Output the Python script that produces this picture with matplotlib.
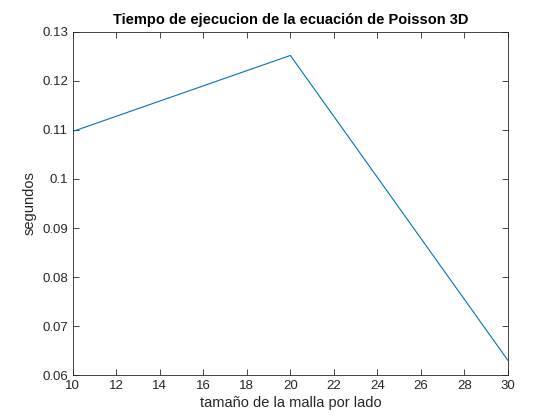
import matplotlib
matplotlib.use("Agg")
import matplotlib.pyplot as plt

x = [10, 20, 30]
y = [0.1097, 0.1252, 0.0630]
xticks = [10, 12, 14, 16, 18, 20, 22, 24, 26, 28, 30]
yticks = [0.06, 0.07, 0.08, 0.09, 0.1, 0.11, 0.12, 0.13]
ytick_labels = ["0.06", "0.07", "0.08", "0.09", "0.1", "0.11", "0.12", "0.13"]

plt.rcParams['font.family'] = ['Liberation Sans', 'DejaVu Sans']
fig = plt.figure(figsize=(5.6, 4.2), dpi=100)
ax = fig.add_axes([0.13, 0.107, 0.777, 0.817])
ax.plot(x, y, color='#0072BD', linewidth=0.8)
ax.set_xlim(10, 30)
ax.set_ylim(0.06, 0.13)
ax.set_xticks(xticks)
ax.set_yticks(yticks)
ax.set_yticklabels(ytick_labels)
ax.tick_params(direction='in', top=True, right=True, labelsize=9.5, colors='#262626', length=4, width=0.6)
for s in ax.spines.values():
    s.set_linewidth(0.6)
    s.set_color('#262626')
ax.set_title('Tiempo de ejecucion de la ecuación de Poisson 3D', fontsize=10.5, fontweight='bold', pad=6)
ax.set_xlabel('tamaño de la malla por lado', fontsize=10.5, color='#262626', labelpad=3)
ax.set_ylabel('segundos', fontsize=10.5, color='#262626', labelpad=4)
fig.savefig('out.png', dpi=100, facecolor='white')
